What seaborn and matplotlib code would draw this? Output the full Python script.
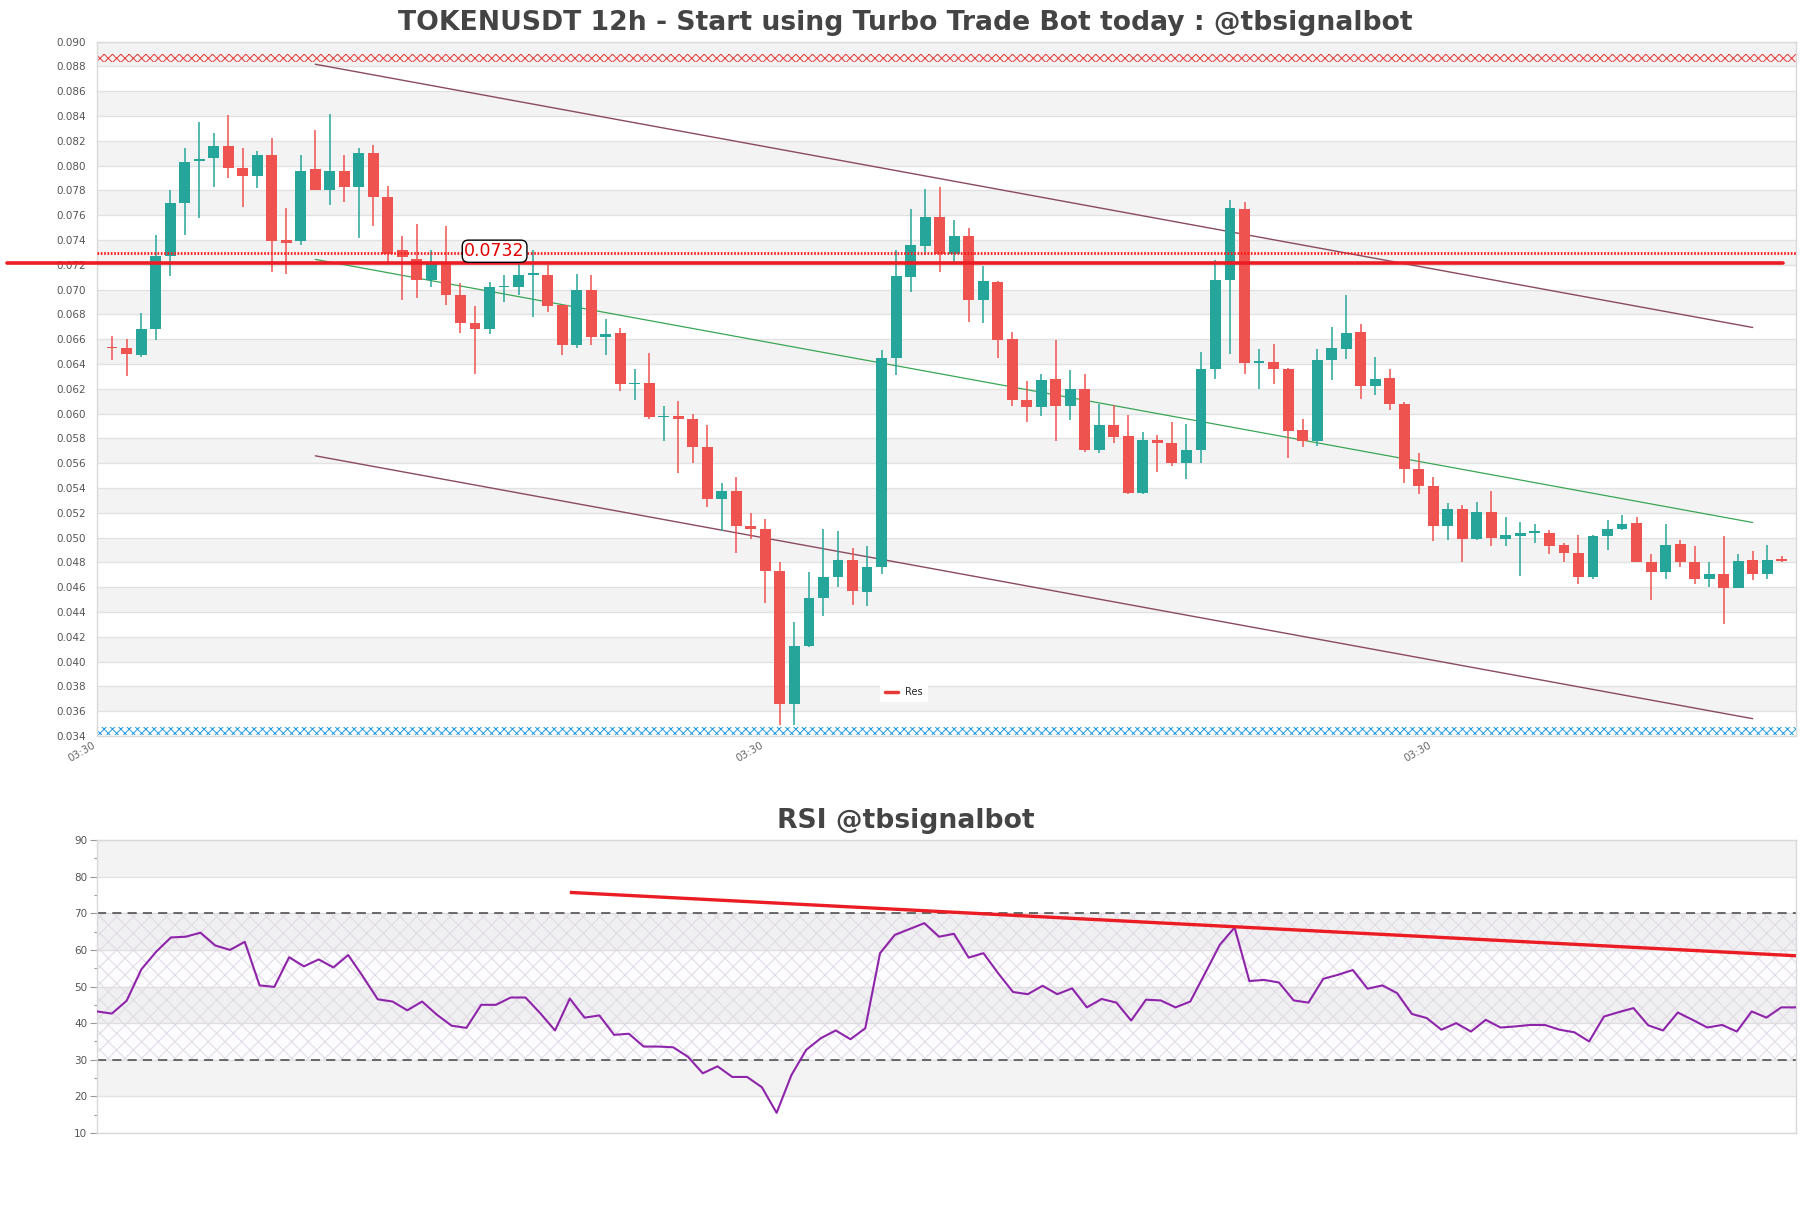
import numpy as np
import pandas as pd
import matplotlib
matplotlib.use("Agg")
import matplotlib.pyplot as plt
from matplotlib.lines import Line2D
from matplotlib.ticker import MultipleLocator
import seaborn as sns

# ---------------- data ----------------
opens = [0.0654, 0.0653, 0.0647, 0.0668, 0.0727, 0.0770, 0.0804, 0.0806, 0.0816, 0.0798,
         0.0792, 0.0809, 0.0740, 0.0739, 0.0797, 0.0780, 0.0796, 0.0783, 0.0810, 0.0775,
         0.0732, 0.0725, 0.0708, 0.0721, 0.0696, 0.0673, 0.0668, 0.0702, 0.0702, 0.0712,
         0.0712, 0.0688, 0.0655, 0.0700, 0.0662, 0.0665, 0.0624, 0.0625, 0.0597, 0.0598,
         0.0596, 0.0573, 0.0531, 0.0538, 0.0509, 0.0507, 0.0473, 0.0366, 0.0413, 0.0451,
         0.0468, 0.0482, 0.0456, 0.0476, 0.0645, 0.0710, 0.0735, 0.0759, 0.0729, 0.0743,
         0.0692, 0.0706, 0.0660, 0.0611, 0.0605, 0.0628, 0.0606, 0.0620, 0.0571, 0.0591,
         0.0582, 0.0536, 0.0579, 0.0576, 0.0560, 0.0571, 0.0636, 0.0708, 0.0765, 0.0641,
         0.0642, 0.0636, 0.0587, 0.0578, 0.0643, 0.0652, 0.0666, 0.0622, 0.0629, 0.0608,
         0.0555, 0.0542, 0.0509, 0.0523, 0.0499, 0.0521, 0.0499, 0.0501, 0.0504, 0.0504,
         0.0494, 0.0488, 0.0468, 0.0501, 0.0507, 0.0512, 0.0480, 0.0472, 0.0495, 0.0480,
         0.0467, 0.0471, 0.0459, 0.0482, 0.0471, 0.0483]
highs = [0.0663, 0.0660, 0.0681, 0.0744, 0.0780, 0.0814, 0.0835, 0.0826, 0.0841, 0.0814,
         0.0812, 0.0822, 0.0766, 0.0809, 0.0829, 0.0842, 0.0809, 0.0814, 0.0817, 0.0784,
         0.0743, 0.0753, 0.0732, 0.0751, 0.0705, 0.0687, 0.0706, 0.0712, 0.0721, 0.0732,
         0.0720, 0.0688, 0.0713, 0.0712, 0.0676, 0.0669, 0.0636, 0.0649, 0.0606, 0.0610,
         0.0600, 0.0591, 0.0544, 0.0549, 0.0520, 0.0515, 0.0480, 0.0432, 0.0472, 0.0507,
         0.0505, 0.0492, 0.0493, 0.0651, 0.0732, 0.0765, 0.0781, 0.0783, 0.0756, 0.0750,
         0.0719, 0.0707, 0.0666, 0.0626, 0.0632, 0.0659, 0.0635, 0.0632, 0.0608, 0.0607,
         0.0599, 0.0585, 0.0583, 0.0593, 0.0592, 0.0650, 0.0724, 0.0772, 0.0771, 0.0652,
         0.0656, 0.0637, 0.0596, 0.0652, 0.0670, 0.0696, 0.0672, 0.0646, 0.0636, 0.0609,
         0.0568, 0.0549, 0.0528, 0.0526, 0.0529, 0.0538, 0.0517, 0.0513, 0.0511, 0.0506,
         0.0496, 0.0502, 0.0502, 0.0514, 0.0518, 0.0517, 0.0487, 0.0511, 0.0498, 0.0493,
         0.0480, 0.0501, 0.0487, 0.0489, 0.0494, 0.0485]
lows = [0.0643, 0.0630, 0.0646, 0.0659, 0.0711, 0.0744, 0.0758, 0.0783, 0.0790, 0.0767,
        0.0782, 0.0714, 0.0713, 0.0736, 0.0780, 0.0768, 0.0771, 0.0742, 0.0751, 0.0722,
        0.0692, 0.0693, 0.0702, 0.0688, 0.0665, 0.0632, 0.0664, 0.0690, 0.0696, 0.0678,
        0.0682, 0.0647, 0.0653, 0.0655, 0.0647, 0.0618, 0.0611, 0.0596, 0.0578, 0.0552,
        0.0560, 0.0525, 0.0505, 0.0488, 0.0499, 0.0447, 0.0349, 0.0349, 0.0412, 0.0437,
        0.0460, 0.0446, 0.0445, 0.0471, 0.0631, 0.0698, 0.0728, 0.0714, 0.0721, 0.0674,
        0.0673, 0.0645, 0.0606, 0.0593, 0.0598, 0.0578, 0.0595, 0.0569, 0.0568, 0.0576,
        0.0535, 0.0535, 0.0553, 0.0558, 0.0547, 0.0560, 0.0628, 0.0648, 0.0632, 0.0620,
        0.0624, 0.0564, 0.0573, 0.0574, 0.0627, 0.0644, 0.0612, 0.0615, 0.0603, 0.0544,
        0.0535, 0.0497, 0.0498, 0.0480, 0.0498, 0.0493, 0.0493, 0.0469, 0.0496, 0.0487,
        0.0480, 0.0463, 0.0467, 0.0490, 0.0506, 0.0480, 0.0450, 0.0467, 0.0476, 0.0463,
        0.0460, 0.0430, 0.0459, 0.0466, 0.0467, 0.0480]
closes = [0.0653, 0.0648, 0.0668, 0.0727, 0.0770, 0.0803, 0.0805, 0.0816, 0.0798, 0.0792,
          0.0809, 0.0739, 0.0738, 0.0796, 0.0780, 0.0796, 0.0783, 0.0810, 0.0775, 0.0729,
          0.0726, 0.0708, 0.0722, 0.0696, 0.0673, 0.0668, 0.0702, 0.0703, 0.0712, 0.0713,
          0.0687, 0.0655, 0.0700, 0.0662, 0.0664, 0.0624, 0.0625, 0.0597, 0.0598, 0.0596,
          0.0573, 0.0531, 0.0538, 0.0509, 0.0507, 0.0473, 0.0366, 0.0413, 0.0451, 0.0468,
          0.0482, 0.0457, 0.0476, 0.0645, 0.0711, 0.0736, 0.0759, 0.0729, 0.0743, 0.0692,
          0.0707, 0.0659, 0.0611, 0.0605, 0.0627, 0.0606, 0.0620, 0.0571, 0.0591, 0.0581,
          0.0536, 0.0579, 0.0576, 0.0560, 0.0571, 0.0636, 0.0708, 0.0766, 0.0641, 0.0642,
          0.0636, 0.0586, 0.0578, 0.0643, 0.0653, 0.0665, 0.0622, 0.0628, 0.0608, 0.0555,
          0.0542, 0.0509, 0.0523, 0.0499, 0.0521, 0.0500, 0.0502, 0.0504, 0.0505, 0.0493,
          0.0488, 0.0468, 0.0501, 0.0507, 0.0511, 0.0480, 0.0472, 0.0494, 0.0480, 0.0467,
          0.0471, 0.0459, 0.0481, 0.0471, 0.0482, 0.0481]

rsi = [43.2, 42.6, 46.1, 54.7, 59.5, 63.4, 63.6, 64.7, 61.2, 60.0,
       62.2, 50.3, 49.9, 58.0, 55.5, 57.4, 55.2, 58.6, 52.7, 46.5,
       45.9, 43.5, 45.9, 42.3, 39.3, 38.7, 45.0, 45.0, 47.0, 47.0,
       42.7, 38.0, 46.7, 41.5, 42.1, 36.8, 37.1, 33.6, 33.6, 33.4,
       30.8, 26.3, 28.2, 25.3, 25.3, 22.5, 15.5, 25.8, 32.7, 35.9,
       38.0, 35.6, 38.6, 59.1, 64.1, 65.7, 67.3, 63.6, 64.4, 57.9,
       59.1, 53.6, 48.5, 47.9, 50.2, 47.9, 49.5, 44.3, 46.6, 45.6,
       40.7, 46.4, 46.2, 44.3, 45.9, 53.6, 61.4, 66.1, 51.5, 51.8,
       51.1, 46.2, 45.6, 52.1, 53.2, 54.5, 49.4, 50.3, 48.2, 42.5,
       41.4, 38.2, 40.0, 37.7, 40.9, 38.8, 39.1, 39.5, 39.5, 38.2,
       37.5, 35.0, 41.8, 43.0, 44.1, 39.4, 38.0, 42.9, 40.9, 38.8,
       39.5, 37.7, 43.2, 41.5, 44.3, 44.3]

x_tick_positions = [-1, 45, 91]
x_tick_labels = ["03:30", "03:30", "03:30"]

title_main = "TOKENUSDT 12h - Start using Turbo Trade Bot today : @tbsignalbot"
title_rsi = "RSI @tbsignalbot"

res_level = 0.07212
res_x = [-7.23, 115.08]
dotted_level = 0.07295
level_label = "0.0732"
level_label_pos = (26.35, 0.0731)
upper_channel_x, upper_channel_y = [14, 113], [0.08818, 0.06695]
lower_channel_x, lower_channel_y = [14, 113], [0.0566, 0.0354]
mid_line_x, mid_line_y = [14, 113], [0.07244, 0.05122]
rsi_trend_x, rsi_trend_y = [32, 115], [75.7, 58.4]
top_zone = (0.0884, 0.0890)
bottom_zone = (0.0341, 0.0347)

GREEN = "#26a69a"
RED = "#ef5350"
BAND = "#f3f3f3"
GRID = "#e2e2e2"
SPINE = "#d9d9d9"
TXT = "#555555"

# ---------------- style ----------------
sns.set_theme(style="white")
plt.rcParams['font.family'] = ['DejaVu Sans']
plt.rcParams['hatch.linewidth'] = 0.7

fig = plt.figure(figsize=(18.11, 12.08), dpi=100)
ax = fig.add_axes([0.0536, 0.3907, 0.9381, 0.5748])
ax2 = fig.add_axes([0.0536, 0.0621, 0.9381, 0.2425])

# ---------------- main chart ----------------
df = pd.DataFrame({"o": opens, "h": highs, "l": lows, "c": closes})
df["x"] = np.arange(len(df))
up = df["c"] >= df["o"]
colors = np.where(up, GREEN, RED)
min_h = 0.00012
raw_h = (df["c"] - df["o"]).abs()
body_h = np.maximum(raw_h, min_h)
mid = (df["c"] + df["o"]) / 2
body_b = np.where(raw_h < min_h, mid - min_h / 2, np.minimum(df["o"], df["c"]))

ax.set_xlim(-1.03, 115.98)
ax.set_ylim(0.034, 0.090)

for k in range(14):
    lo = 0.036 + 0.004 * k
    ax.axhspan(lo, lo + 0.002, color=BAND, lw=0, zorder=0)
yt = np.round(np.arange(0.034, 0.09001, 0.002), 3)
ax.set_yticks(yt)
ax.set_yticklabels([f"{v:.3f}" for v in yt])
ax.grid(axis="y", color=GRID, lw=1, zorder=0.5)
ax.grid(axis="x", visible=False)
ax.set_axisbelow(True)

ax.axhspan(*top_zone, facecolor="none", edgecolor="#e53935", hatch="xxxx", lw=0, zorder=2)
ax.axhspan(*bottom_zone, facecolor="none", edgecolor="#1e9be0", hatch="xxxx", lw=0, zorder=2)

ax.plot(upper_channel_x, upper_channel_y, color="#8a4a60", lw=1.0, zorder=2.5)
ax.plot(lower_channel_x, lower_channel_y, color="#8a4a60", lw=1.0, zorder=2.5)
ax.plot(mid_line_x, mid_line_y, color="#3aa655", lw=0.9, zorder=2.5)

ax.vlines(df["x"], df["l"], df["h"], colors=colors, lw=1.1, zorder=3)
ax.bar(df["x"], body_h, bottom=body_b, width=0.75, color=colors, lw=0, zorder=4)

ax.axhline(dotted_level, color="#ff1a1a", lw=2.0, ls=(0, (0.6, 0.6)), zorder=5)
ax.plot(res_x, [res_level, res_level], color="#ec1c24", lw=2.6, clip_on=False, zorder=6, label="Res")
ax.text(*level_label_pos, level_label, color="#e00000", fontsize=12.5, ha="center", va="center", zorder=7,
        bbox=dict(boxstyle="round,pad=0.12,rounding_size=0.35", fc="white", ec="black", lw=1))

ax.legend(handles=[Line2D([0], [0], color="#e53935", lw=2.5, label="Res")], loc="lower left",
          bbox_to_anchor=(0.458, 0.042), fontsize=7, frameon=True, facecolor="white",
          edgecolor="none", framealpha=1, handlelength=1.3, borderpad=0.5)

ax.set_xticks(x_tick_positions)
ax.set_xticklabels(x_tick_labels, rotation=30, ha="right", fontsize=7.5, color="#666666")
ax.tick_params(axis="y", labelsize=7.5, labelcolor=TXT, length=0, pad=8)
ax.tick_params(axis="x", length=0, pad=3)
for s in ax.spines.values():
    s.set_color(SPINE)
    s.set_linewidth(1)

# ---------------- RSI chart ----------------
n = len(rsi)
rsi_df = pd.DataFrame({"i": np.arange(n), "rsi": rsi})
ax2.set_xlim(0, n - 1)
ax2.set_ylim(10, 90)
for lo in [20, 40, 60, 80]:
    ax2.axhspan(lo, lo + 10, color=BAND, lw=0, zorder=0)
ax2.set_yticks(np.arange(10, 91, 10))
ax2.yaxis.set_minor_locator(MultipleLocator(5))
ax2.grid(axis="y", which="major", color=GRID, lw=1, zorder=0.5)
ax2.grid(axis="x", visible=False)
ax2.set_axisbelow(True)
ax2.fill_between([0, n - 1], 30, 70, color=(0.55, 0.2, 0.6, 0.02), lw=0, zorder=0.8)
ax2.fill_between([0, n - 1], 30, 70, facecolor="none", edgecolor="#e0dae4", hatch="xx", lw=0, zorder=1)
ax2.axhline(70, color="#444444", lw=1.1, ls=(0, (6, 4)), zorder=2)
ax2.axhline(30, color="#444444", lw=1.1, ls=(0, (6, 4)), zorder=2)
sns.lineplot(data=rsi_df, x="i", y="rsi", ax=ax2, color="#8e24aa", lw=1.5, zorder=3)
ax2.plot(rsi_trend_x, rsi_trend_y, color="#ec1c24", lw=2.4, zorder=4, solid_capstyle="butt")
ax2.set_xlabel("")
ax2.set_ylabel("")
ax2.set_xticks([])
ax2.tick_params(axis="y", which="major", labelsize=7.5, labelcolor=TXT, length=5, color="#999999", width=0.8, pad=2, left=True)
ax2.tick_params(axis="y", which="minor", length=2.5, color="#999999", width=0.8, left=True)
for s in ax2.spines.values():
    s.set_color(SPINE)
    s.set_linewidth(1)

# ---------------- titles ----------------
fig.text(0.5, 1 - 23 / 1208, title_main, ha="center", va="center", fontsize=19.2, fontweight="bold", color="#444444")
fig.text(0.5, 1 - 821 / 1208, title_rsi, ha="center", va="center", fontsize=19.2, fontweight="bold", color="#444444")

fig.savefig("out.png", dpi=100)
